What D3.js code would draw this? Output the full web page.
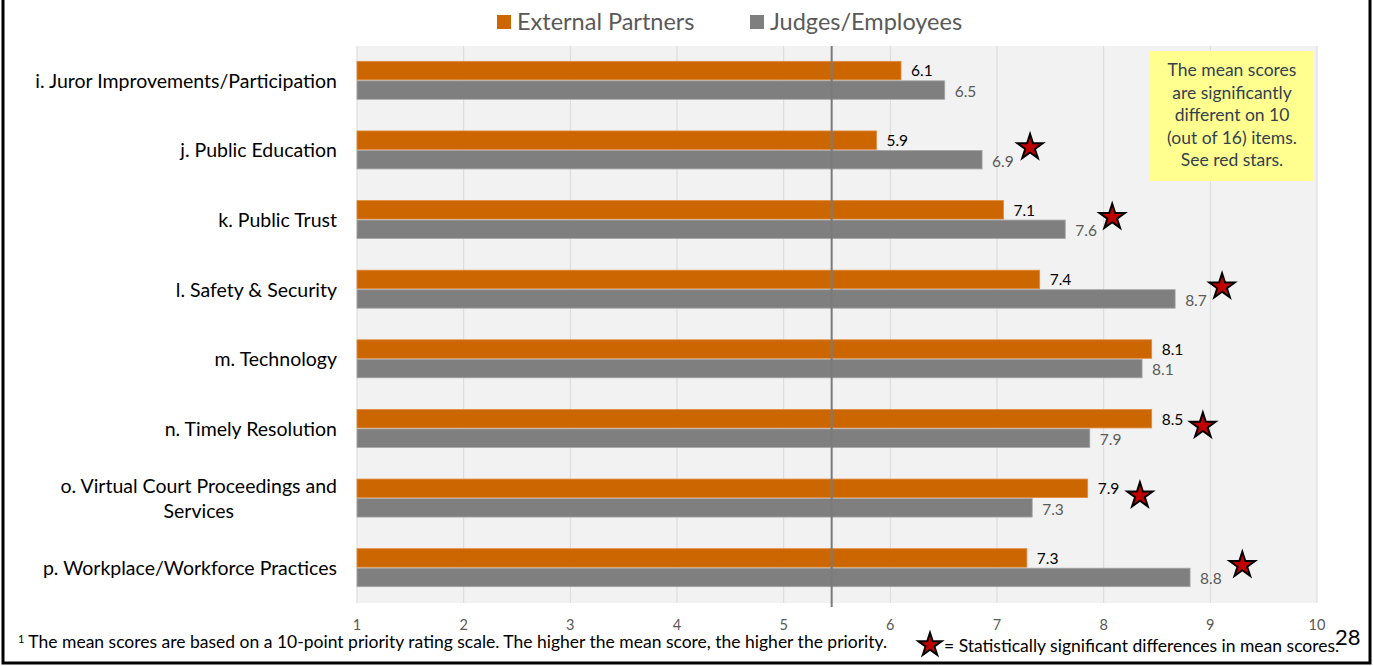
<!DOCTYPE html>
<html>
<head>
<meta charset="utf-8">
<script src="https://cdn.jsdelivr.net/npm/d3@7"></script>
<style>
  html, body { margin: 0; padding: 0; background: #fff; }
  svg { display: block; font-family: Lato, "Open Sans", sans-serif; }
</style>
</head>
<body>
<svg id="chart" width="1373" height="666"></svg>
<script>
// chart data
const categories = [
  "i. Juror Improvements/Participation",
  "j. Public Education",
  "k. Public Trust",
  "l. Safety & Security",
  "m. Technology",
  "n. Timely Resolution",
  "o. Virtual Court Proceedings and Services",
  "p. Workplace/Workforce Practices"
];
const externalPartners = [6.10, 5.87, 7.06, 7.40, 8.45, 8.45, 7.85, 7.28];
const judgesEmployees = [6.51, 6.86, 7.64, 8.67, 8.36, 7.87, 7.33, 8.81];
const externalLabels = ["6.1", "5.9", "7.1", "7.4", "8.1", "8.5", "7.9", "7.3"];
const employeeLabels = ["6.5", "6.9", "7.6", "8.7", "8.1", "7.9", "7.3", "8.8"];
const xTicks = [1, 2, 3, 4, 5, 6, 7, 8, 9, 10];
const referenceMean = 5.45;
// items with a significant difference -> star position on the x scale
const starItems = ["j. Public Education", "k. Public Trust", "l. Safety & Security",
  "n. Timely Resolution", "o. Virtual Court Proceedings and Services", "p. Workplace/Workforce Practices"];
const starX = [7.31, 8.08, 9.11, 8.93, 8.34, 9.30];
const seriesNames = ["External Partners", "Judges/Employees"];
const noteLines = ["The mean scores", "are significantly", "different on 10", "(out of 16) items.", "See red stars."];

const orange = "#cc6600";
const grey = "#7f7f7f";

const svg = d3.select("#chart");
const plot = { left: 357, right: 1317, top: 46, bottom: 603 };

const x = d3.scaleLinear().domain([1, 10]).range([plot.left, plot.right]);
const y = d3.scaleBand().domain(categories).range([plot.top, plot.bottom]).paddingInner(0.44).paddingOuter(0.22);
const sub = d3.scaleBand().domain(seriesNames).range([0, y.bandwidth()]);

// plot background + gridlines
svg.append("rect")
  .attr("x", plot.left).attr("y", plot.top)
  .attr("width", plot.right - plot.left).attr("height", plot.bottom - plot.top)
  .attr("fill", "#f2f2f2");

svg.append("g").selectAll("line")
  .data(xTicks)
  .join("line")
  .attr("x1", d => x(d)).attr("x2", d => x(d))
  .attr("y1", plot.top).attr("y2", plot.bottom)
  .attr("stroke", "#d9d9d9").attr("stroke-width", 1);

// tick labels
svg.append("g").selectAll("text")
  .data(xTicks)
  .join("text")
  .attr("x", d => x(d)).attr("y", 625)
  .attr("dy", "0.35em")
  .attr("text-anchor", "middle")
  .attr("font-size", 14.5).attr("fill", "#595959")
  .text(d => d);

// bars
const rows = categories.map((c, i) => ({
  cat: c, ext: externalPartners[i], emp: judgesEmployees[i],
  extLabel: externalLabels[i], empLabel: employeeLabels[i]
}));

const bars = svg.append("g");
bars.selectAll("rect.ext")
  .data(rows)
  .join("rect")
  .attr("class", "ext")
  .attr("x", x(1))
  .attr("y", d => y(d.cat) + sub(seriesNames[0]))
  .attr("width", d => x(d.ext) - x(1))
  .attr("height", sub.bandwidth() - 1)
  .attr("fill", orange)
  .attr("stroke", "#e08a3c").attr("stroke-width", 0.8);

bars.selectAll("rect.emp")
  .data(rows)
  .join("rect")
  .attr("class", "emp")
  .attr("x", x(1))
  .attr("y", d => y(d.cat) + sub(seriesNames[1]))
  .attr("width", d => x(d.emp) - x(1))
  .attr("height", sub.bandwidth() - 1)
  .attr("fill", grey)
  .attr("stroke", "#a6a6a6").attr("stroke-width", 0.8);

// value labels
bars.selectAll("text.ext")
  .data(rows)
  .join("text")
  .attr("class", "ext")
  .attr("x", d => x(d.ext) + 10)
  .attr("y", d => y(d.cat) + sub(seriesNames[0]) + sub.bandwidth() / 2)
  .attr("dy", "0.35em")
  .attr("font-size", 15.5).attr("fill", "#000")
  .text(d => d.extLabel);

bars.selectAll("text.emp")
  .data(rows)
  .join("text")
  .attr("class", "emp")
  .attr("x", d => x(d.emp) + 10)
  .attr("y", d => y(d.cat) + sub(seriesNames[1]) + sub.bandwidth() / 2 + 1)
  .attr("dy", "0.35em")
  .attr("font-size", 15.5).attr("fill", "#595959")
  .text(d => d.empLabel);

// overall mean reference line
svg.append("line")
  .attr("x1", x(referenceMean)).attr("x2", x(referenceMean))
  .attr("y1", plot.top).attr("y2", 607)
  .attr("stroke", "#7a7a7a").attr("stroke-width", 2);

// category labels, right aligned; long one wraps into a centred block
const catLabels = svg.append("g");
rows.forEach(d => {
  const cy = y(d.cat) + y.bandwidth() / 2;
  if (d.cat.startsWith("o.")) {
    const lines = ["o. Virtual Court Proceedings and", "Services"];
    const t = catLabels.append("text")
      .attr("font-size", 19.5).attr("fill", "#000").attr("text-anchor", "middle");
    lines.forEach((l, k) => {
      t.append("tspan").attr("x", 0).attr("y", cy + (k - 0.5) * 25).attr("dy", "0.35em").text(l);
    });
    const w = t.node().getBBox().width;
    t.selectAll("tspan").attr("x", 337 - w / 2);
  } else {
    catLabels.append("text")
      .attr("x", 337).attr("y", cy).attr("dy", "0.35em")
      .attr("text-anchor", "end")
      .attr("font-size", 19.5).attr("fill", "#000")
      .text(d.cat);
  }
});

// significance stars
const star = d3.symbol().type(d3.symbolStar);
svg.append("g").selectAll("path")
  .data(starItems.map((c, i) => ({ cat: c, v: starX[i] })))
  .join("path")
  .attr("d", star.size(200))
  .attr("transform", d => `translate(${x(d.v)},${y(d.cat) + y.bandwidth() / 2 - 3})`)
  .attr("fill", "#c00000").attr("stroke", "#000").attr("stroke-width", 2);

// yellow note box
svg.append("rect")
  .attr("x", 1150).attr("y", 51).attr("width", 164).attr("height", 130)
  .attr("fill", "#ffff8f");
svg.append("g").selectAll("text")
  .data(noteLines)
  .join("text")
  .attr("x", 1232).attr("y", (d, i) => 70 + i * 22.5)
  .attr("dy", "0.35em")
  .attr("text-anchor", "middle")
  .attr("font-size", 17.5).attr("fill", "#333f50")
  .text(d => d);

// legend
const legend = svg.append("g");
const legendX = [497, 750];
seriesNames.forEach((name, i) => {
  legend.append("rect")
    .attr("x", legendX[i]).attr("y", 15).attr("width", 14).attr("height", 14)
    .attr("fill", i === 0 ? orange : grey);
  legend.append("text")
    .attr("x", legendX[i] + 20).attr("y", 22).attr("dy", "0.35em")
    .attr("font-size", 23.5).attr("fill", "#595959")
    .text(name);
});

// footnote
const foot = svg.append("text")
  .attr("x", 18).attr("y", 646).attr("dy", "0.35em")
  .attr("font-size", 17.5).attr("fill", "#000");
foot.append("tspan").attr("font-size", 11).attr("dy", "-0.25em").text("1");
foot.append("tspan").attr("dy", "0.25em").text(" The mean scores are based on a 10-point priority rating scale.  The higher the mean score, the higher the priority.");

svg.append("path")
  .attr("d", d3.symbol().type(d3.symbolStar).size(170)())
  .attr("transform", "translate(930,645)")
  .attr("fill", "#c00000").attr("stroke", "#000").attr("stroke-width", 2);

svg.append("text")
  .attr("x", 944).attr("y", 646).attr("dy", "0.35em")
  .attr("font-size", 17.5).attr("fill", "#000")
  .text("= Statistically significant differences in mean scores.");

svg.append("text")
  .attr("x", 1335).attr("y", 637).attr("dy", "0.35em")
  .attr("font-size", 22).attr("fill", "#000")
  .text("28");

// slide frame (left, bottom, right edges)
svg.append("path")
  .attr("d", "M3,0 V663 H1370 V0")
  .attr("fill", "none").attr("stroke", "#000").attr("stroke-width", 3);
</script>
</body>
</html>
